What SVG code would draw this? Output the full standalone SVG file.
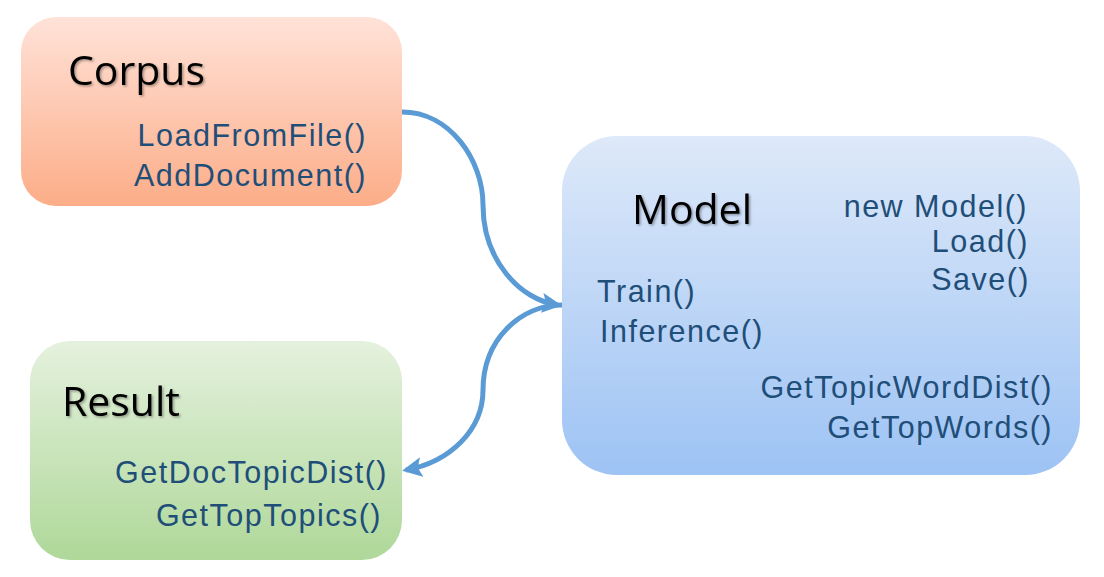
<svg xmlns="http://www.w3.org/2000/svg" width="1104" height="577" viewBox="0 0 1104 577">
<defs>
<linearGradient id="gC" x1="0" y1="0" x2="0" y2="1"><stop offset="0" stop-color="#FFE2D8"/><stop offset="1" stop-color="#FCAD88"/></linearGradient>
<linearGradient id="gM" x1="0" y1="0" x2="0" y2="1"><stop offset="0" stop-color="#DEE9F9"/><stop offset="1" stop-color="#9DC3F4"/></linearGradient>
<linearGradient id="gR" x1="0" y1="0" x2="0" y2="1"><stop offset="0" stop-color="#E5F1DE"/><stop offset="1" stop-color="#AFD899"/></linearGradient>
<filter id="sh" x="-10%" y="-10%" width="120%" height="130%"><feDropShadow dx="1.5" dy="1.5" stdDeviation="1.2" flood-color="#000" flood-opacity="0.35"/></filter>
<marker id="ah" viewBox="0 0 10 10" refX="8" refY="5" markerWidth="4" markerHeight="4" orient="auto" markerUnits="strokeWidth"><path d="M0,0 L10,5 L0,10 L2,5 z" fill="#5B9BD5"/></marker>
</defs>
<style>
.t{font-family:"Open Sans","Noto Sans","Liberation Sans",sans-serif;font-size:41px;fill:#000;filter:url(#sh)}
.m{font-family:"Liberation Sans",Arial,sans-serif;font-size:30.5px;letter-spacing:1.5px;fill:#1F4E79}
.e{text-anchor:end}
.c{fill:none;stroke:#5B9BD5;stroke-width:5}
</style>
<g id="corpus">
<rect x="21" y="17" width="381" height="189" rx="35" fill="url(#gC)"/>
<text class="t" x="68" y="85">Corpus</text>
<text class="m e" x="367" y="146">LoadFromFile()</text>
<text class="m e" x="367" y="186">AddDocument()</text>
</g>
<g id="model">
<rect x="562" y="136" width="518" height="339" rx="55" fill="url(#gM)"/>
<text class="t" x="632" y="224">Model</text>
<text class="m e" x="1028" y="217">new Model()</text>
<text class="m e" x="1029" y="252">Load()</text>
<text class="m e" x="1030" y="290">Save()</text>
<text class="m" x="597" y="302">Train()</text>
<text class="m" x="600" y="342">Inference()</text>
<text class="m e" x="1053" y="398">GetTopicWordDist()</text>
<text class="m e" x="1053" y="438">GetTopWords()</text>
</g>
<g id="result">
<rect x="30" y="341" width="372" height="219" rx="40" fill="url(#gR)"/>
<text class="t" x="62" y="416">Result</text>
<text class="m e" x="388" y="483">GetDocTopicDist()</text>
<text class="m e" x="382" y="526">GetTopTopics()</text>
</g>
<g id="connectors">
<path class="c" d="M402,112 C450,112 483,160 483,205 C483,260 520,300 558,305" marker-end="url(#ah)"/>
<path class="c" d="M562,305 C520,305 483,340 483,390 C483,430 450,462 406,470" marker-end="url(#ah)"/>
</g>
</svg>
